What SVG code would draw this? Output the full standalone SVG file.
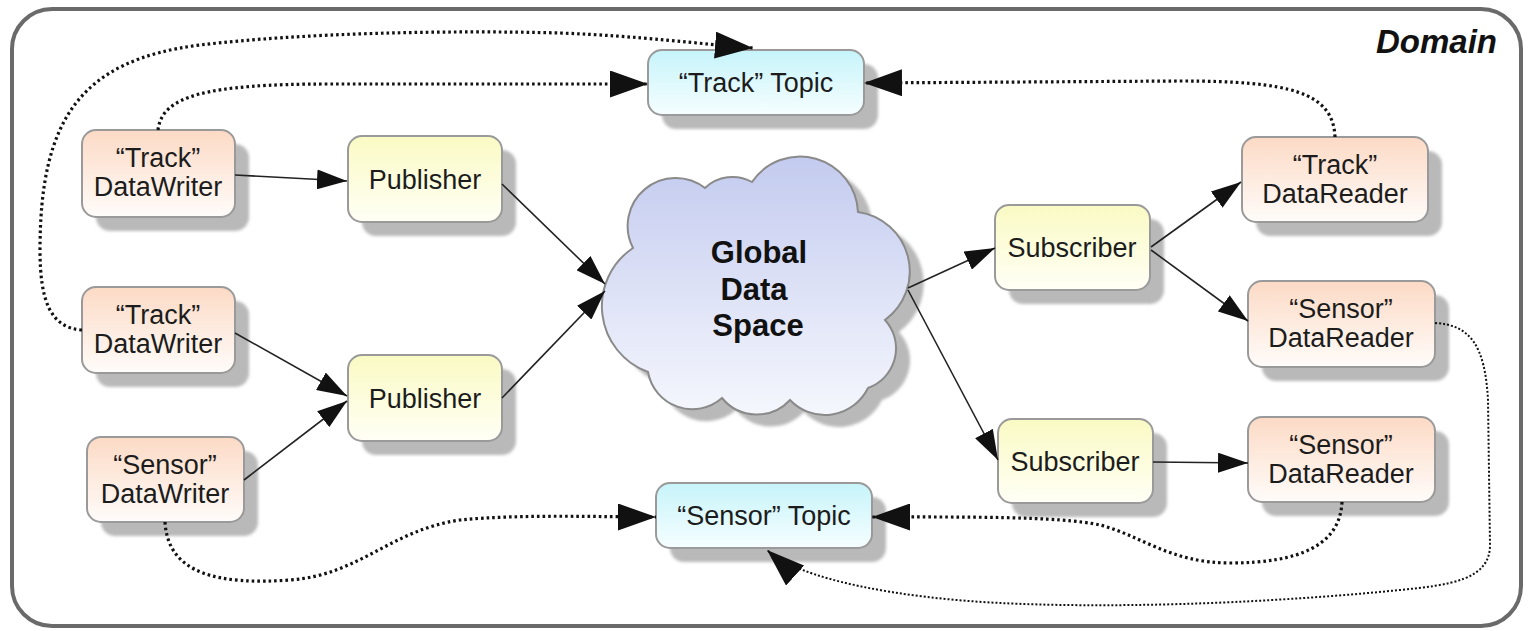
<svg xmlns="http://www.w3.org/2000/svg" width="1528" height="631" viewBox="0 0 1528 631">
<defs>
<linearGradient id="gWR" x1="0" y1="0" x2="0" y2="1"><stop offset="0" stop-color="#fcdac5"/><stop offset="1" stop-color="#fffcfa"/></linearGradient>
<linearGradient id="gPS" x1="0" y1="0" x2="0" y2="1"><stop offset="0" stop-color="#fafac4"/><stop offset="1" stop-color="#fffff6"/></linearGradient>
<linearGradient id="gT" x1="0" y1="0" x2="0" y2="1"><stop offset="0" stop-color="#c6f4fa"/><stop offset="1" stop-color="#f6feff"/></linearGradient>
<linearGradient id="gC" x1="0" y1="0" x2="0" y2="1"><stop offset="0" stop-color="#c3cbef"/><stop offset="1" stop-color="#f5f7fd"/></linearGradient>
<filter id="blur" x="-10%" y="-10%" width="120%" height="120%"><feGaussianBlur stdDeviation="1.5"/></filter>
<marker id="aS" markerUnits="userSpaceOnUse" markerWidth="30" markerHeight="20" refX="30" refY="10" orient="auto"><path d="M0,0 L30,10 L0,20 z" fill="#111"/></marker>
<marker id="aD" markerUnits="userSpaceOnUse" markerWidth="38" markerHeight="27" refX="38" refY="13.5" orient="auto"><path d="M0,0 L38,13.5 L0,27 z" fill="#111"/></marker>
</defs>
<style>
.box{stroke:#9a9a9a;stroke-width:2}
.sh{fill:#b9b9b9;filter:url(#blur)}
.t{font-family:"Liberation Sans",Arial,sans-serif;font-size:27px;fill:#1c1c1c;text-anchor:middle}
.ct{font-family:"Liberation Sans",Arial,sans-serif;font-size:31px;font-weight:bold;fill:#111;text-anchor:middle}
.solid{fill:none;stroke:#222;stroke-width:1.6;marker-end:url(#aS)}
.dot{fill:none;stroke:#111;stroke-width:3.2;stroke-dasharray:2.6 3;marker-end:url(#aD)}
.dotThin{fill:none;stroke:#111;stroke-width:2;stroke-dasharray:2 2;marker-end:url(#aD)}
</style>
<g id="domain">
<rect x="12" y="9" width="1509" height="617" rx="40" fill="#ffffff" stroke="#6a6a6a" stroke-width="4"/>
<text x="1497" y="53" font-family="Liberation Sans,Arial,sans-serif" font-size="33" font-weight="bold" font-style="italic" text-anchor="end" fill="#111">Domain</text>
</g>
<g id="cloud">
<path class="sh" transform="translate(14,12)" d="M633,248 A48,48 0 0 1 705,188 A40,40 0 0 1 752,182 A58,58 0 0 1 858,212 A60,60 0 0 1 885,320 A42,42 0 0 1 868,388 A48,48 0 0 1 790,400 A45,45 0 0 1 722,398 A45,45 0 0 1 648,372 A70,70 0 0 1 633,248 Z"/>
<path fill="url(#gC)" stroke="#8a8a8a" stroke-width="2" d="M633,248 A48,48 0 0 1 705,188 A40,40 0 0 1 752,182 A58,58 0 0 1 858,212 A60,60 0 0 1 885,320 A42,42 0 0 1 868,388 A48,48 0 0 1 790,400 A45,45 0 0 1 722,398 A45,45 0 0 1 648,372 A70,70 0 0 1 633,248 Z"/>
<text class="ct" x="759" y="263">Global</text>
<text class="ct" x="754" y="300">Data</text>
<text class="ct" x="758" y="336">Space</text>
</g>
<g id="trackWriter1">
<rect class="sh" x="96" y="144" width="153" height="87" rx="14"/>
<rect class="box" x="82" y="130" width="153" height="87" rx="14" fill="url(#gWR)"/>
<text class="t" x="158" y="167">“Track”</text><text class="t" x="158" y="196">DataWriter</text>
</g>
<g id="publisher1">
<rect class="sh" x="362" y="150" width="154" height="86" rx="14"/>
<rect class="box" x="348" y="136" width="154" height="86" rx="14" fill="url(#gPS)"/>
<text class="t" x="425" y="189">Publisher</text>
</g>
<g id="trackWriter2">
<rect class="sh" x="96" y="301" width="153" height="86" rx="14"/>
<rect class="box" x="82" y="287" width="153" height="86" rx="14" fill="url(#gWR)"/>
<text class="t" x="158" y="324">“Track”</text><text class="t" x="158" y="353">DataWriter</text>
</g>
<g id="publisher2">
<rect class="sh" x="362" y="369" width="154" height="86" rx="14"/>
<rect class="box" x="348" y="355" width="154" height="86" rx="14" fill="url(#gPS)"/>
<text class="t" x="425" y="408">Publisher</text>
</g>
<g id="sensorWriter">
<rect class="sh" x="101" y="451" width="157" height="85" rx="14"/>
<rect class="box" x="87" y="437" width="157" height="85" rx="14" fill="url(#gWR)"/>
<text class="t" x="165" y="474">“Sensor”</text><text class="t" x="165" y="503">DataWriter</text>
</g>
<g id="trackTopic">
<rect class="sh" x="662" y="64" width="216" height="65" rx="14"/>
<rect class="box" x="648" y="50" width="216" height="65" rx="14" fill="url(#gT)"/>
<text class="t" x="756" y="92">“Track” Topic</text>
</g>
<g id="sensorTopic">
<rect class="sh" x="670" y="497" width="216" height="65" rx="14"/>
<rect class="box" x="656" y="483" width="216" height="65" rx="14" fill="url(#gT)"/>
<text class="t" x="764" y="525">“Sensor” Topic</text>
</g>
<g id="subscriber1">
<rect class="sh" x="1009" y="219" width="155" height="85" rx="14"/>
<rect class="box" x="995" y="205" width="155" height="85" rx="14" fill="url(#gPS)"/>
<text class="t" x="1072" y="257">Subscriber</text>
</g>
<g id="subscriber2">
<rect class="sh" x="1012" y="433" width="155" height="84" rx="14"/>
<rect class="box" x="998" y="419" width="155" height="84" rx="14" fill="url(#gPS)"/>
<text class="t" x="1075" y="471">Subscriber</text>
</g>
<g id="trackReader">
<rect class="sh" x="1256" y="151" width="186" height="85" rx="14"/>
<rect class="box" x="1242" y="137" width="186" height="85" rx="14" fill="url(#gWR)"/>
<text class="t" x="1335" y="174">“Track”</text><text class="t" x="1335" y="203">DataReader</text>
</g>
<g id="sensorReader1">
<rect class="sh" x="1262" y="295" width="187" height="86" rx="14"/>
<rect class="box" x="1248" y="281" width="187" height="86" rx="14" fill="url(#gWR)"/>
<text class="t" x="1341" y="318">“Sensor”</text><text class="t" x="1341" y="347">DataReader</text>
</g>
<g id="sensorReader2">
<rect class="sh" x="1262" y="431" width="187" height="85" rx="14"/>
<rect class="box" x="1248" y="417" width="187" height="85" rx="14" fill="url(#gWR)"/>
<text class="t" x="1341" y="454">“Sensor”</text><text class="t" x="1341" y="483">DataReader</text>
</g>
<g id="connectors">
<path class="solid" d="M235,175 L347,181"/>
<path class="solid" d="M235,333 L347,396"/>
<path class="solid" d="M244,480 L347,401"/>
<path class="solid" d="M502,184 L605,284"/>
<path class="solid" d="M502,398 L605,291"/>
<path class="solid" d="M908,288 L995,248"/>
<path class="solid" d="M908,290 L998,460"/>
<path class="solid" d="M1151,247 L1241,182"/>
<path class="solid" d="M1151,250 L1248,321"/>
<path class="solid" d="M1153,462 L1248,463"/>
<path class="dot" d="M158,130 C162,96 205,84 330,84 L648,84"/>
<path class="dot" d="M82,330 C50,328 40,300 40,250 C40,120 80,60 200,45 C300,33 450,30 560,33 C640,36 700,44 753,48"/>
<path class="dot" d="M1335,137 C1333,92 1290,81 1180,81 L864,83"/>
<path class="dot" d="M165,522 C168,575 220,585 290,580 C360,575 390,530 460,520 C520,514 600,517 656,517"/>
<path class="dot" d="M1342,502 C1340,545 1300,563 1230,563 C1170,563 1140,535 1100,525 C1060,516 960,517 872,517"/>
<path class="dotThin" d="M1435,323 C1470,325 1485,345 1488,400 L1490,545 C1490,580 1450,585 1400,590 C1250,605 1100,608 1000,603 C900,598 800,580 767,550"/>
</g>
</svg>
